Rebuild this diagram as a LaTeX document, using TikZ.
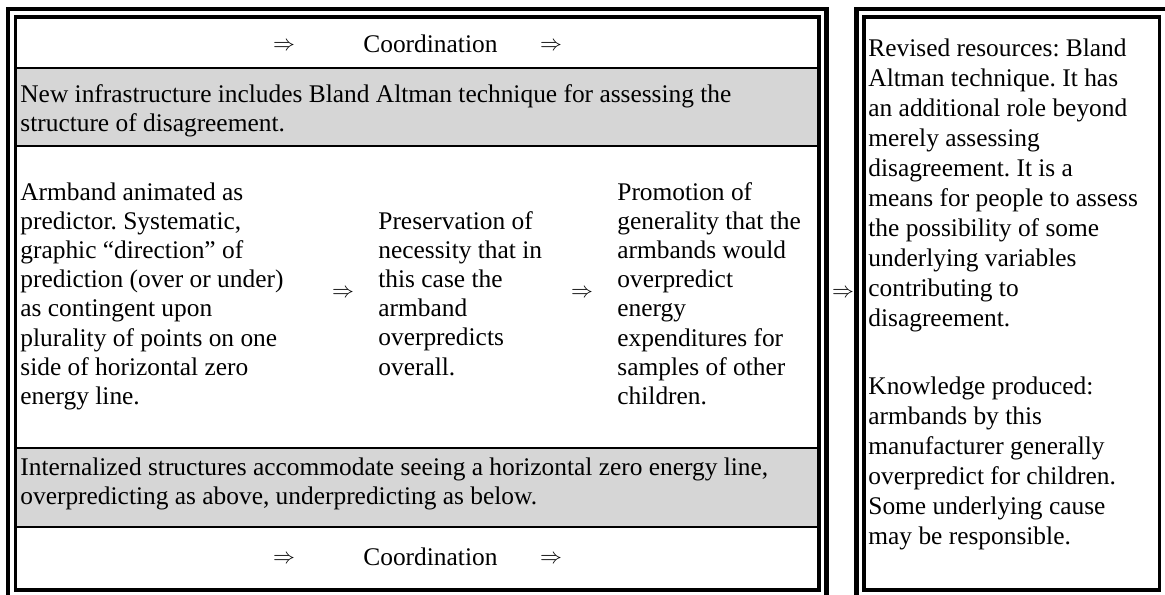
\documentclass[tikz,border=0pt]{standalone}
\usepackage{fontspec}
\setmainfont{Liberation Serif}
\frenchspacing
\newcommand{\celltext}[1]{\begin{tabular}[t]{@{}l@{}}#1\end{tabular}}
\tikzset{
  band/.style={fill=black!16},
  rowrule/.style={line width=0.6pt},
  outerframe/.style={line width=2.1pt},
  innerframe/.style={line width=1.8pt},
  txt/.style={anchor=base west, inner sep=0pt, font=\fontsize{12.7}{14.6}\selectfont},
  sidetxt/.style={txt, font=\fontsize{12.7}{15}\selectfont},
  arr/.style={inner sep=0pt, font=\fontsize{10.5}{12}\selectfont},
}
\begin{document}
\begin{tikzpicture}[x=0.5pt,y=-0.5pt]
\clip (0,0) rectangle (1165,594);
\fill[white] (0,0) rectangle (1165,594);

% shaded rows of the left panel
\fill[band] (17,68) rectangle (819,146);
\fill[band] (17,448) rectangle (819,527);
\draw[rowrule] (17,68) -- (819,68);
\draw[rowrule] (17,146) -- (819,146);
\draw[rowrule] (17,448) -- (819,448);
\draw[rowrule] (17,527) -- (819,527);

% double frames
\draw[outerframe] (8,9) rectangle (826.5,598);
\draw[innerframe] (15.5,17) rectangle (819,590);
\draw[outerframe] (856.5,9) rectangle (1167,598);
\draw[innerframe] (864,17) rectangle (1159.5,590);

% top coordination row
\node[arr] (ta1) at (284,46) {$\Rightarrow$};
\node[txt] (tc) at (363,52) {Coordination};
\node[arr] (ta2) at (551,46) {$\Rightarrow$};

% new infrastructure
\node[txt] (infra) at (20,102) {\celltext{New infrastructure includes Bland Altman technique for assessing the\\structure of disagreement.}};

% middle row
\node[txt] (c1) at (20,200) {\celltext{Armband animated as\\predictor. Systematic,\\graphic \textquotedblleft direction\textquotedblright{} of\\prediction (over or under)\\as contingent upon\\plurality of points on one\\side of horizontal zero\\energy line.}};
\node[arr] (m1) at (343,293) {$\Rightarrow$};
\node[txt] (c2) at (378,229) {\celltext{Preservation of\\necessity that in\\this case the\\armband\\overpredicts\\overall.}};
\node[arr] (m2) at (582,293) {$\Rightarrow$};
\node[txt] (c3) at (617,200) {\celltext{Promotion of\\generality that the\\armbands would\\overpredict\\energy\\expenditures for\\samples of other\\children.}};

% internalized structures
\node[txt] (intern) at (20,475) {\celltext{Internalized structures accommodate seeing a horizontal zero energy line,\\overpredicting as above, underpredicting as below.}};

% bottom coordination row
\node[arr] (ba1) at (284,559) {$\Rightarrow$};
\node[txt] (bc) at (363,565) {Coordination};
\node[arr] (ba2) at (551,559) {$\Rightarrow$};

% link between the panels
\node[arr] (link) at (843,293) {$\Rightarrow$};

% right panel
\node[sidetxt] (rev) at (868,56) {\celltext{Revised resources: Bland\\Altman technique. It has\\an additional role beyond\\merely assessing\\disagreement. It is a\\means for people to assess\\the possibility of some\\underlying variables\\contributing to\\disagreement.}};
\node[sidetxt] (know) at (868,394) {\celltext{Knowledge produced:\\armbands by this\\manufacturer generally\\overpredict for children.\\Some underlying cause\\may be responsible.}};
\end{tikzpicture}
\end{document}
